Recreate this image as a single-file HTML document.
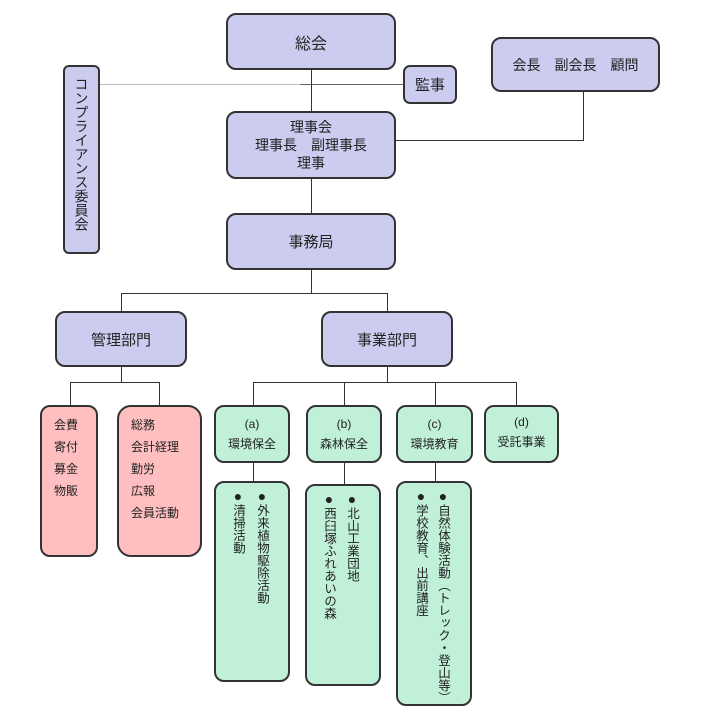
<!DOCTYPE html>
<html><head><meta charset="utf-8"><style>
body{margin:0;width:720px;height:720px;background:#fff;position:relative;overflow:hidden;font-family:"Liberation Sans","Noto Sans CJK JP",sans-serif;color:#222}
.b{position:absolute;box-sizing:border-box;border:2px solid #333;border-radius:10px;display:flex;align-items:center;justify-content:center;text-align:center}
.p{background:#ccccf0}.r{background:#ffbfc0}.g{background:#c0f0d8}
.l{position:absolute;background:#333}
.vt{position:absolute;writing-mode:vertical-rl;font-size:12.5px;line-height:16px;width:16px;white-space:nowrap;top:488px}
.vt b{font-size:14px}
.t{position:absolute;font-size:12px;line-height:22px;text-align:left}
</style></head><body>
<div class="l" style="left:100px;top:84px;width:200px;height:1px;background:#bbb"></div>
<div class="l" style="left:300px;top:84px;width:103px;height:1px;background:#666"></div>
<div class="l" style="left:311px;top:70px;width:1px;height:223px"></div>
<div class="l" style="left:396px;top:140px;width:188px;height:1px"></div>
<div class="l" style="left:583px;top:92px;width:1px;height:49px"></div>
<div class="l" style="left:121px;top:293px;width:267px;height:1px"></div>
<div class="l" style="left:121px;top:293px;width:1px;height:18px"></div>
<div class="l" style="left:387px;top:293px;width:1px;height:18px"></div>
<div class="l" style="left:121px;top:367px;width:1px;height:15px"></div>
<div class="l" style="left:70px;top:382px;width:90px;height:1px"></div>
<div class="l" style="left:70px;top:382px;width:1px;height:23px"></div>
<div class="l" style="left:159px;top:382px;width:1px;height:23px"></div>
<div class="l" style="left:387px;top:367px;width:1px;height:15px"></div>
<div class="l" style="left:253px;top:382px;width:264px;height:1px"></div>
<div class="l" style="left:253px;top:382px;width:1px;height:23px"></div>
<div class="l" style="left:344px;top:382px;width:1px;height:23px"></div>
<div class="l" style="left:435px;top:382px;width:1px;height:23px"></div>
<div class="l" style="left:516px;top:382px;width:1px;height:23px"></div>
<div class="l" style="left:253px;top:463px;width:1px;height:18px"></div>
<div class="l" style="left:344px;top:463px;width:1px;height:21px"></div>
<div class="l" style="left:435px;top:463px;width:1px;height:18px"></div>
<div class="b p" style="left:226px;top:13px;width:170px;height:57px;font-size:16px">総会</div>
<div class="b p" style="left:403px;top:65px;width:54px;height:39px;font-size:15px;border-radius:7px">監事</div>
<div class="b p" style="left:491px;top:37px;width:169px;height:55px;font-size:14px">会長　副会長　顧問</div>
<div class="b p" style="left:63px;top:65px;width:37px;height:189px;font-size:14px;writing-mode:vertical-rl;border-radius:6px;justify-content:flex-start;padding-top:10px">コンプライアンス委員会</div>
<div class="b p" style="left:226px;top:111px;width:170px;height:68px;font-size:14px;line-height:18px">理事会<br>理事長　副理事長<br>理事</div>
<div class="b p" style="left:226px;top:213px;width:170px;height:57px;font-size:15px">事務局</div>
<div class="b p" style="left:55px;top:311px;width:132px;height:56px;font-size:15px">管理部門</div>
<div class="b p" style="left:321px;top:311px;width:132px;height:56px;font-size:15px">事業部門</div>
<div class="b r" style="left:40px;top:405px;width:58px;height:152px"></div>
<div class="t" style="left:54px;top:414px">会費<br>寄付<br>募金<br>物販</div>
<div class="b r" style="left:117px;top:405px;width:85px;height:152px;border-radius:14px"></div>
<div class="t" style="left:131px;top:414px">総務<br>会計経理<br>勤労<br>広報<br>会員活動</div>
<div class="b g" style="left:214px;top:405px;width:76px;height:58px;font-size:12px;line-height:20px">(a)<br>環境保全</div>
<div class="b g" style="left:306px;top:405px;width:76px;height:58px;font-size:12px;line-height:20px">(b)<br>森林保全</div>
<div class="b g" style="left:396px;top:405px;width:77px;height:58px;font-size:12px;line-height:20px">(c)<br>環境教育</div>
<div class="b g" style="left:484px;top:405px;width:75px;height:58px;font-size:12px;line-height:20px;padding-bottom:4px">(d)<br>受託事業</div>
<div class="b g" style="left:214px;top:481px;width:76px;height:201px"></div>
<div class="b g" style="left:305px;top:484px;width:76px;height:202px"></div>
<div class="b g" style="left:396px;top:481px;width:76px;height:225px"></div>
<div class="vt" style="left:230px"><b>●</b>清掃活動</div>
<div class="vt" style="left:254px"><b>●</b>外来植物駆除活動</div>
<div class="vt" style="left:321px;top:491px"><b>●</b>西臼塚ふれあいの森</div>
<div class="vt" style="left:344px;top:491px"><b>●</b>北山工業団地</div>
<div class="vt" style="left:413px"><b>●</b>学校教育、出前講座</div>
<div class="vt" style="left:435px"><b>●</b>自然体験活動（トレック・登山等）</div>
</body></html>
